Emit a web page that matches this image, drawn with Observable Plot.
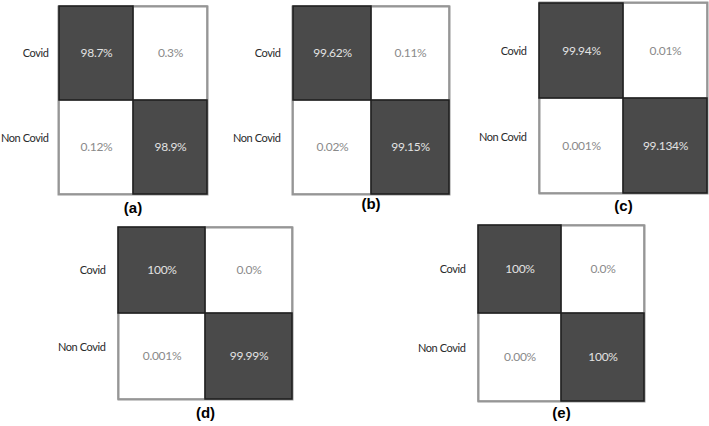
<!DOCTYPE html>
<html><head><meta charset="utf-8">
<script src="https://cdn.jsdelivr.net/npm/d3@7"></script>
<script src="https://cdn.jsdelivr.net/npm/@observablehq/plot@0.6"></script>
<style>
html,body{margin:0;padding:0;background:#fff;}
#chart{position:relative;width:709px;height:426px;overflow:hidden;background:#fff;}
#chart svg{position:absolute;overflow:visible;}
</style></head><body><div id="chart"></div>
<script>
// classes (rows = actual, columns = predicted)
const classes = ["Covid", "Non Covid"];
const panelNames = ["(a)", "(b)", "(c)", "(d)", "(e)"];
// cell labels in order: Covid/Covid, Covid/Non Covid, Non Covid/Covid, Non Covid/Non Covid
const cellsA = ["98.7%", "0.3%", "0.12%", "98.9%"];
const cellsB = ["99.62%", "0.11%", "0.02%", "99.15%"];
const cellsC = ["99.94%", "0.01%", "0.001%", "99.134%"];
const cellsD = ["100%", "0.0%", "0.001%", "99.99%"];
const cellsE = ["100%", "0.0%", "0.00%", "100%"];
const allCells = [cellsA, cellsB, cellsC, cellsD, cellsE];

// layout of each matrix box on the page (pixels)
const layout = [
  {x: 58, y: 6, w: 149, h: 188, ly: 18, pad: 10},
  {x: 292, y: 6, w: 157, h: 188, ly: 14, pad: 12},
  {x: 539, y: 2, w: 168, h: 191, ly: 17, pad: 13},
  {x: 118, y: 227, w: 174, h: 172, ly: 18, pad: 13},
  {x: 478, y: 225, w: 166, h: 176, ly: 16, pad: 13}
];

const ML = 80, MR = 2, MT = 2, MB = 30;
const chart = document.getElementById("chart");

allCells.forEach((cells, k) => {
  const L = layout[k];
  const data = cells.map((label, i) => ({
    row: classes[Math.floor(i / 2)],
    col: classes[i % 2],
    label,
    value: parseFloat(label)
  }));
  const dark = data.filter(d => d.value > 50);
  const light = data.filter(d => d.value <= 50);
  const svg = Plot.plot({
    width: L.w + ML + MR,
    height: L.h + MT + MB,
    marginLeft: ML, marginRight: MR, marginTop: MT, marginBottom: MB,
    x: {domain: classes, padding: 0, axis: null},
    y: {domain: classes, padding: 0, axis: null},
    style: {background: "transparent", fontFamily: "Lato, 'Open Sans', sans-serif", overflow: "visible"},
    marks: [
      Plot.cell(light, {x: "col", y: "row", fill: "white", stroke: "#969696", strokeWidth: 1.5}),
      Plot.frame({stroke: "#969696", strokeWidth: 2}),
      Plot.cell(dark, {x: "col", y: "row", fill: "#4a4a4a", stroke: "#1e1e1e", strokeWidth: 1.5}),
      Plot.text(dark, {x: "col", y: "row", text: "label", fill: "#e2e2e2", fontSize: 12}),
      Plot.text(light, {x: "col", y: "row", text: "label", fill: "#8a8a8a", fontSize: 12}),
      Plot.axisY(["Covid"], {tickSize: 0, tickPadding: L.pad, fontSize: 11, color: "#2a2a2a", label: null}),
      Plot.axisY(["Non Covid"], {tickSize: 0, tickPadding: L.pad, dy: -9, fontSize: 11, color: "#2a2a2a", label: null}),
      Plot.text([panelNames[k]], {frameAnchor: "bottom", dy: L.ly, fontWeight: "bold", fontSize: 15,
        fontFamily: "'Liberation Sans', Arial, sans-serif", fill: "#000"})
    ]
  });
  // slightly condensed lettering, as in the source figure
  svg.querySelectorAll('g[aria-label="y-axis tick label"] text').forEach(t => t.style.letterSpacing = "-0.4px");
  svg.querySelectorAll('g[aria-label="text"] text').forEach(t => {
    if (t.textContent.includes("%")) t.style.letterSpacing = "-0.3px";
  });
  svg.style.left = (L.x - ML) + "px";
  svg.style.top = (L.y - MT) + "px";
  chart.appendChild(svg);
});
</script>
</body></html>
